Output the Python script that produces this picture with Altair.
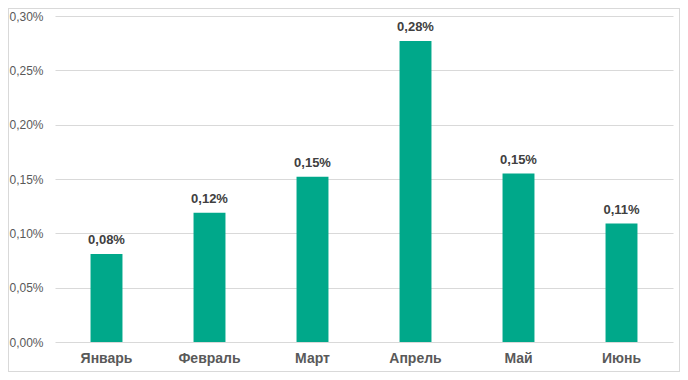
import altair as alt
import pandas as pd

months = ["Январь", "Февраль", "Март", "Апрель", "Май", "Июнь"]
values = [0.00081, 0.00119, 0.00152, 0.00277, 0.00155, 0.00109]
y_ticks = [0, 0.0005, 0.001, 0.0015, 0.002, 0.0025, 0.003]

df = pd.DataFrame({"month": months, "value": values})

FONT = "Liberation Sans"
BAR = "#00A88A"

x = alt.X("month:N", sort=months, title=None,
          scale=alt.Scale(paddingInner=0.69, paddingOuter=0.345),
          axis=alt.Axis(labelAngle=0, labelFont=FONT, labelFontSize=14, labelFontWeight="bold",
                        labelColor="#595959", labelPadding=9, domain=False, ticks=False))
y = alt.Y("value:Q", title=None,
          scale=alt.Scale(domain=[0, 0.003], nice=False),
          axis=alt.Axis(values=y_ticks, labelFont=FONT, labelFontSize=12, labelColor="#595959",
                        labelExpr="replace(format(datum.value, '.2%'), '.', ',')",
                        labelPadding=12, domain=False, ticks=False,
                        grid=True, gridColor="#d9d9d9", gridWidth=1))

bars = alt.Chart(df).mark_bar(color=BAR).encode(x=x, y=y)

labels = alt.Chart(df).transform_calculate(
    lab="replace(format(datum.value, '.2%'), '.', ',')"
).mark_text(font=FONT, fontSize=13, fontWeight="bold", color="#404040",
            baseline="bottom", dy=-7).encode(x=x, y=y, text="lab:N")

border = alt.Chart(df).mark_rect(fill=None, stroke="#d9d9d9", strokeWidth=1).encode(
    x=alt.value(-46.5), x2=alt.value(624.5), y=alt.value(-7.5), y2=alt.value(355.5))

chart = alt.layer(bars, labels, border).properties(
    width=618, height=326,
    autosize=alt.AutoSizeParams(type="none"),
    padding={"left": 47, "top": 8, "right": 7, "bottom": 30},
    background="white",
).configure_view(stroke=None)

chart.save("out.html", embed_options={"renderer": "svg", "actions": False})
